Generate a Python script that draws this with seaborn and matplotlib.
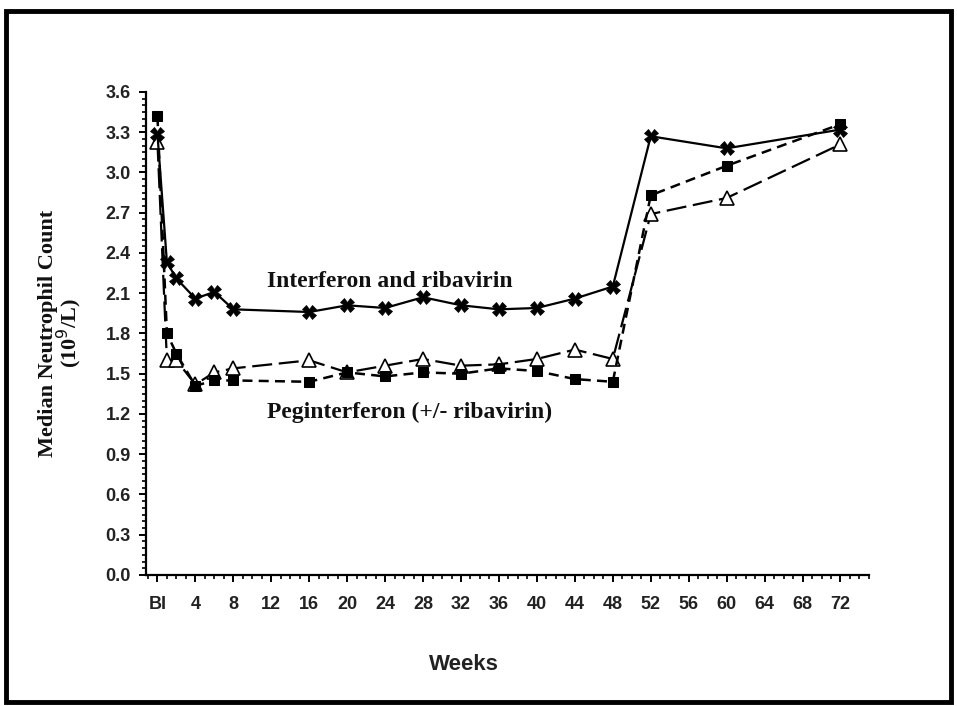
import matplotlib
matplotlib.use("Agg")
import matplotlib.pyplot as plt
import seaborn as sns
import pandas as pd
from matplotlib.patches import Rectangle
from matplotlib.ticker import MultipleLocator

sns.set_theme(style="white")
plt.rcParams['font.family'] = ['Liberation Sans', 'DejaVu Sans']

# ---- data ----
weeks_ifn = [0, 1, 2, 4, 6, 8, 16, 20, 24, 28, 32, 36, 40, 44, 48, 52, 60, 72]
ifn_rbv = [3.29, 2.33, 2.21, 2.06, 2.11, 1.98, 1.96, 2.01, 1.99, 2.07, 2.01, 1.98, 1.99, 2.06, 2.15, 3.27, 3.18, 3.32]

weeks_peg = [0, 1, 2, 4, 6, 8, 16, 20, 24, 28, 32, 36, 40, 44, 48, 52, 60, 72]
peg_square = [3.42, 1.80, 1.65, 1.41, 1.45, 1.45, 1.44, 1.51, 1.48, 1.51, 1.50, 1.54, 1.52, 1.46, 1.44, 2.83, 3.05, 3.36]
peg_triangle = [3.23, 1.60, 1.60, 1.42, 1.51, 1.54, 1.60, 1.51, 1.56, 1.61, 1.56, 1.57, 1.61, 1.68, 1.61, 2.69, 2.81, 3.21]

xtick_vals = [0, 4, 8, 12, 16, 20, 24, 28, 32, 36, 40, 44, 48, 52, 56, 60, 64, 68, 72]
xtick_labels = ['BI', '4', '8', '12', '16', '20', '24', '28', '32', '36', '40', '44', '48', '52', '56', '60', '64', '68', '72']
ytick_vals = [0.0, 0.3, 0.6, 0.9, 1.2, 1.5, 1.8, 2.1, 2.4, 2.7, 3.0, 3.3, 3.6]

label_ifn = "Interferon and ribavirin"
label_peg = "Peginterferon (+/- ribavirin)"

df_ifn = pd.DataFrame({"week": weeks_ifn, "anc": ifn_rbv})
df_sq = pd.DataFrame({"week": weeks_peg, "anc": peg_square})
df_tr = pd.DataFrame({"week": weeks_peg, "anc": peg_triangle})

fig = plt.figure(figsize=(9.57, 7.06), dpi=100)
ax = fig.add_axes([0.1526, 0.1856, 0.7554, 0.6841])

sns.lineplot(data=df_tr, x="week", y="anc", ax=ax, color="black", lw=1.6,
             marker="^", markersize=10, markerfacecolor="white", markeredgecolor="black",
             markeredgewidth=1.2, zorder=2)
ax.lines[-1].set_dashes([9, 3])
sns.lineplot(data=df_sq, x="week", y="anc", ax=ax, color="black", lw=1.8,
             marker="s", markersize=7.5, markerfacecolor="black", markeredgecolor="black",
             zorder=3)
ax.lines[-1].set_dashes([4, 2.5])
sns.lineplot(data=df_ifn, x="week", y="anc", ax=ax, color="black", lw=1.6,
             marker="X", markersize=9.5, markerfacecolor="black", markeredgecolor="black",
             markeredgewidth=0.5, zorder=4)

ax.set_xlim(-1.2, 75)
ax.set_ylim(0, 3.6)
ax.set_xticks(xtick_vals)
ax.set_xticklabels(xtick_labels)
ax.set_yticks(ytick_vals)
ax.set_yticklabels([f"{v:.1f}" for v in ytick_vals])
ax.xaxis.set_minor_locator(MultipleLocator(1))
ax.yaxis.set_minor_locator(MultipleLocator(0.05))

for s in ["top", "right"]:
    ax.spines[s].set_visible(False)
for s in ["left", "bottom"]:
    ax.spines[s].set_color("black")
    ax.spines[s].set_linewidth(1.6)

ax.tick_params(axis="both", which="major", direction="out", length=5, width=1.4,
               colors="black", labelsize=13, left=True, bottom=True)
ax.tick_params(axis="x", which="major", pad=10)
ax.tick_params(axis="y", which="major", pad=6)
ax.tick_params(axis="both", which="minor", direction="out", length=3, width=1.2,
               colors="black", left=True, bottom=True)
for t in ax.get_xticklabels() + ax.get_yticklabels():
    t.set_fontweight("bold")
    t.set_color("#222222")

ax.set_xlabel("Weeks", fontsize=16, fontweight="bold", color="#222222")
ax.xaxis.set_label_coords(0.44, -0.186)
ax.xaxis.label.set_va("center")
ax.set_ylabel("Median Neutrophil Count\n(10$^{9}$/L)", fontsize=16, fontweight="bold",
              family="Liberation Serif", color="#111111", linespacing=0.85)
ax.yaxis.set_label_coords(-0.118, 0.5)
ax.yaxis.label.set_va("center")

ax.text(11.6, 2.19, label_ifn, ha="left", va="center", fontsize=17,
        fontweight="bold", family="Liberation Serif", color="#111111")
ax.text(11.6, 1.21, label_peg, ha="left", va="center", fontsize=17,
        fontweight="bold", family="Liberation Serif", color="#111111")

fig.patches.append(Rectangle((0.006, 0.005), 0.988, 0.98, transform=fig.transFigure,
                             fill=False, edgecolor="black", linewidth=3.5))

fig.savefig("out.png", dpi=100, facecolor="white")
